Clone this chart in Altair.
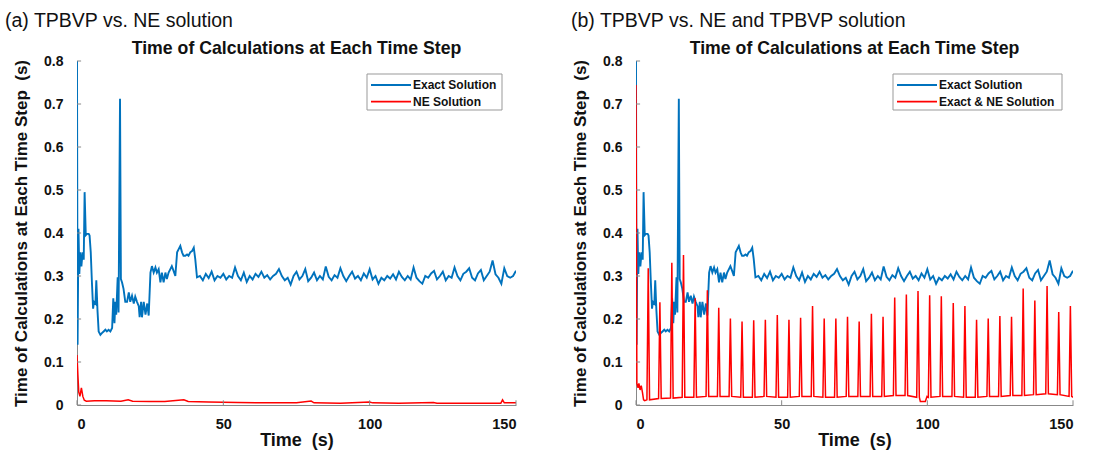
import altair as alt
import pandas as pd

FONT = "Liberation Sans"
BLUE = "#0072BD"
RED = "#FF0000"

# ---------------- Exact Solution (blue), identical in both panels ----------------
blue_t_early = [0.0, 0.2, 0.5, 0.8, 1.1, 1.5, 1.9, 2.3, 2.6, 3.0, 3.4, 4.0, 4.3, 4.7, 5.1, 5.5, 5.8,
                6.3, 6.6, 7.0, 7.4, 8.0, 8.5, 9.1, 9.7, 10.2, 10.8, 11.4, 12.0, 12.4, 12.8, 13.1,
                13.4, 13.9, 14.2, 14.7, 15.0, 15.4, 15.9, 16.5, 17.1, 17.7, 18.2, 18.8, 19.4, 19.9,
                20.5, 21.1, 21.4, 21.9, 22.2, 22.8, 23.4, 24.0, 24.5, 25.1, 25.6, 26.2, 26.8, 27.3,
                27.9, 28.5, 29.0, 29.6, 30.2, 30.7, 31.3, 31.9, 32.4, 33.0, 33.6, 34.2, 34.7, 35.3,
                35.9, 36.4, 37.0, 37.6, 38.1, 38.7, 39.3, 39.9, 40.4, 41.0]
blue_v_early = [0.800, 0.140, 0.410, 0.305, 0.355, 0.322, 0.355, 0.338, 0.495, 0.395, 0.398, 0.398,
                0.394, 0.355, 0.285, 0.224, 0.240, 0.236, 0.290, 0.220, 0.171, 0.163, 0.167, 0.171,
                0.175, 0.171, 0.175, 0.171, 0.179, 0.248, 0.190, 0.240, 0.210, 0.297, 0.215, 0.712,
                0.293, 0.285, 0.270, 0.240, 0.240, 0.262, 0.240, 0.254, 0.236, 0.252, 0.240, 0.230,
                0.204, 0.240, 0.204, 0.240, 0.210, 0.236, 0.208, 0.308, 0.323, 0.308, 0.320, 0.308,
                0.316, 0.285, 0.308, 0.285, 0.308, 0.293, 0.308, 0.316, 0.323, 0.312, 0.300, 0.355,
                0.362, 0.370, 0.355, 0.347, 0.347, 0.350, 0.347, 0.355, 0.358, 0.366, 0.340, 0.297]
blue_t_late = list(range(42, 151))
blue_v_late = [0.300, 0.290, 0.305, 0.295, 0.310, 0.290, 0.300, 0.296, 0.305, 0.292,
               0.300, 0.296, 0.320, 0.300, 0.290, 0.308, 0.286, 0.300, 0.292, 0.305,
               0.298, 0.310, 0.296, 0.302, 0.292, 0.300, 0.305, 0.316, 0.300, 0.290,
               0.296, 0.280, 0.300, 0.310, 0.292, 0.300, 0.316, 0.288, 0.296, 0.308,
               0.290, 0.300, 0.292, 0.322, 0.298, 0.290, 0.302, 0.296, 0.318, 0.300,
               0.288, 0.300, 0.310, 0.294, 0.300, 0.290, 0.306, 0.296, 0.316, 0.292,
               0.300, 0.282, 0.296, 0.290, 0.300, 0.294, 0.304, 0.292, 0.310, 0.298,
               0.290, 0.300, 0.292, 0.320, 0.296, 0.288, 0.282, 0.300, 0.296, 0.306,
               0.312, 0.292, 0.300, 0.310, 0.290, 0.300, 0.296, 0.320, 0.300, 0.290,
               0.305, 0.310, 0.318, 0.296, 0.290, 0.306, 0.314, 0.290, 0.300, 0.310,
               0.336, 0.304, 0.296, 0.282, 0.318, 0.300, 0.296, 0.300, 0.312]

# ---------------- NE Solution (red), panel (a) ----------------
red_a_t = [0, 0.3, 0.6, 1.0, 1.5, 2.0, 2.5, 3.2, 6, 10, 15, 17.5, 19, 25, 30, 36.5, 38, 45, 55,
           65, 75, 80, 81, 90, 100, 101, 110, 121.8, 123, 135, 144.8, 145.4, 146, 150]
red_a_v = [0.116, 0.070, 0.030, 0.020, 0.040, 0.020, 0.011, 0.009, 0.010, 0.010, 0.009, 0.012,
           0.009, 0.008, 0.008, 0.012, 0.008, 0.007, 0.006, 0.005, 0.005, 0.009, 0.005, 0.004,
           0.007, 0.005, 0.004, 0.006, 0.004, 0.004, 0.004, 0.012, 0.005, 0.005]

# ---------------- Exact & NE Solution (red), panel (b) ----------------
red_b_head_t = [0.0, 0.3, 0.7, 1.0, 1.4, 1.8, 2.2, 2.6, 3.0]
red_b_head_v = [0.744, 0.050, 0.040, 0.050, 0.035, 0.045, 0.030, 0.012, 0.010]
spike_t = [4.2, 8.2, 12.3, 16.3, 20.3, 24.5, 28.4, 32.4, 36.4, 40.4, 44.4, 48.5, 52.5, 56.5,
           60.6, 64.6, 68.6, 72.6, 76.6, 80.8, 84.8, 88.8, 92.8, 96.8, 100.8, 104.8, 108.9,
           112.9, 116.9, 120.9, 124.9, 128.9, 132.9, 136.9, 141.1, 145.1, 149.1]
spike_v = [0.318, 0.239, 0.331, 0.349, 0.248, 0.267, 0.226, 0.201, 0.194, 0.197, 0.198, 0.209,
           0.198, 0.203, 0.230, 0.201, 0.201, 0.205, 0.194, 0.212, 0.205, 0.250, 0.257, 0.265,
           0.255, 0.253, 0.237, 0.230, 0.198, 0.201, 0.207, 0.205, 0.271, 0.243, 0.277, 0.216,
           0.230]
spike_base = [0.012, 0.015, 0.016, 0.018, 0.018, 0.020, 0.020, 0.020, 0.018, 0.018, 0.020, 0.018,
              0.018, 0.020, 0.020, 0.018, 0.018, 0.020, 0.020, 0.020, 0.020, 0.022, 0.022, 0.018,
              0.018, 0.020, 0.020, 0.018, 0.018, 0.020, 0.020, 0.022, 0.022, 0.024, 0.026, 0.024,
              0.020]
red_b_extra_t = [97.6, 99.3, 99.9, 150.0]
red_b_extra_v = [0.008, 0.008, 0.020, 0.018]

# tick values
x_ticks = [0, 50, 100, 150]
y_ticks = [0, 0.1, 0.2, 0.3, 0.4, 0.5, 0.6, 0.7, 0.8]

PLOT_H = 344
TITLE = "Time of Calculations at Each Time Step"


def blue_df(name):
    t = blue_t_early + blue_t_late
    v = blue_v_early + blue_v_late
    return pd.DataFrame({"t": t, "v": v, "series": name})


def red_b_df(name):
    pts = list(zip(red_b_head_t, red_b_head_v))
    for st, sv, sb in zip(spike_t, spike_v, spike_base):
        pts += [(st - 0.45, sb), (st, sv), (st + 0.45, sb)]
    pts += list(zip(red_b_extra_t, red_b_extra_v))
    pts.sort(key=lambda p: p[0])
    return pd.DataFrame({"t": [p[0] for p in pts], "v": [p[1] for p in pts], "series": name})


def red_a_df(name):
    return pd.DataFrame({"t": red_a_t, "v": red_a_v, "series": name})


def text_layer(txt, x, y, size, weight="normal", align="left"):
    return alt.Chart(pd.DataFrame({"txt": [txt]})).mark_text(
        align=align, baseline="alphabetic", fontSize=size, font=FONT, fontWeight=weight,
        color="#111").encode(x=alt.value(x), y=alt.value(y), text="txt:N")


def panel(red_df, names, caption, cap_x, lg, width):
    xenc = alt.X("t:Q", scale=alt.Scale(domain=[0, 150], nice=False),
                 axis=alt.Axis(values=x_ticks, format="d", title="Time\u00a0 (s)",
                               titleFontSize=18, titlePadding=1, labelPadding=12,
                               labelFontSize=14.5))
    yenc = alt.Y("v:Q", scale=alt.Scale(domain=[0, 0.8], nice=False),
                 axis=alt.Axis(values=y_ticks, format=".1~f",
                               title="Time of Calculations at Each Time Step\u00a0 (s)",
                               titleFontSize=17, titlePadding=13, labelPadding=14,
                               labelFontSize=14))
    color = alt.Color("series:N", scale=alt.Scale(domain=names, range=[BLUE, RED]),
                      legend=None)
    blue = alt.Chart(blue_df(names[0])).mark_line(strokeWidth=1.9, clip=True).encode(
        x=xenc, y=yenc, color=color, order="t:Q")
    red = alt.Chart(red_df).mark_line(strokeWidth=1.5, clip=True).encode(
        x=xenc, y=yenc, color=color, order="t:Q")
    yt = alt.Chart(pd.DataFrame({"v": y_ticks, "t": [0] * len(y_ticks),
                                 "t2": [1.4] * len(y_ticks)})).mark_rule(
        color="#888", strokeWidth=1).encode(x=xenc, x2="t2:Q", y=yenc)
    xt = alt.Chart(pd.DataFrame({"t": x_ticks, "v": [0] * len(x_ticks),
                                 "v2": [0.011] * len(x_ticks)})).mark_rule(
        color="#888", strokeWidth=1).encode(x=xenc, y=yenc, y2="v2:Q")
    cap = text_layer(caption, cap_x, -34, 19.5)
    ttl = text_layer(TITLE, width / 2, -7, 17.7, "bold", "center")
    # legend box (manual, MATLAB style)
    box = alt.Chart(pd.DataFrame({"k": [0]})).mark_rect(
        fill="white", stroke="#999", strokeWidth=1).encode(
        x=alt.value(lg[0]), x2=alt.value(lg[1]), y=alt.value(13), y2=alt.value(49))
    leg = [box]
    for i, (nm, col) in enumerate(zip(names, [BLUE, RED])):
        yy = 24 + i * 16.7
        leg.append(alt.Chart(pd.DataFrame({"k": [0]})).mark_rule(
            color=col, strokeWidth=1.8).encode(
            x=alt.value(lg[0] + 4), x2=alt.value(lg[0] + 44), y=alt.value(yy)))
        leg.append(alt.Chart(pd.DataFrame({"txt": [nm]})).mark_text(
            align="left", baseline="middle", fontSize=12, font=FONT, fontWeight="bold",
            color="#111").encode(x=alt.value(lg[0] + 46), y=alt.value(yy), text="txt:N"))
    return alt.layer(blue, red, yt, xt, cap, ttl, *leg).properties(width=width, height=PLOT_H)


pa = panel(red_a_df("NE Solution"), ["Exact Solution", "NE Solution"],
           "(a) TPBVP vs. NE solution", -72, (290, 425), 439)
pb = panel(red_b_df("Exact & NE Solution"), ["Exact Solution", "Exact & NE Solution"],
           "(b) TPBVP vs. NE and TPBVP solution", -65, (257, 426), 437)

chart = alt.hconcat(pa, pb, spacing=54).resolve_scale(color="independent").properties(
    padding={"left": 5, "top": 11, "right": 5, "bottom": 5}
).configure_view(stroke=None).configure_axis(
    labelFont=FONT, titleFont=FONT, labelFontWeight="bold", titleFontWeight="bold",
    labelColor="#111", titleColor="#111", domainColor="#888", domainWidth=1,
    ticks=False, tickSize=0, grid=False
)

chart.save("out.html", embed_options={"renderer": "svg", "actions": False})
